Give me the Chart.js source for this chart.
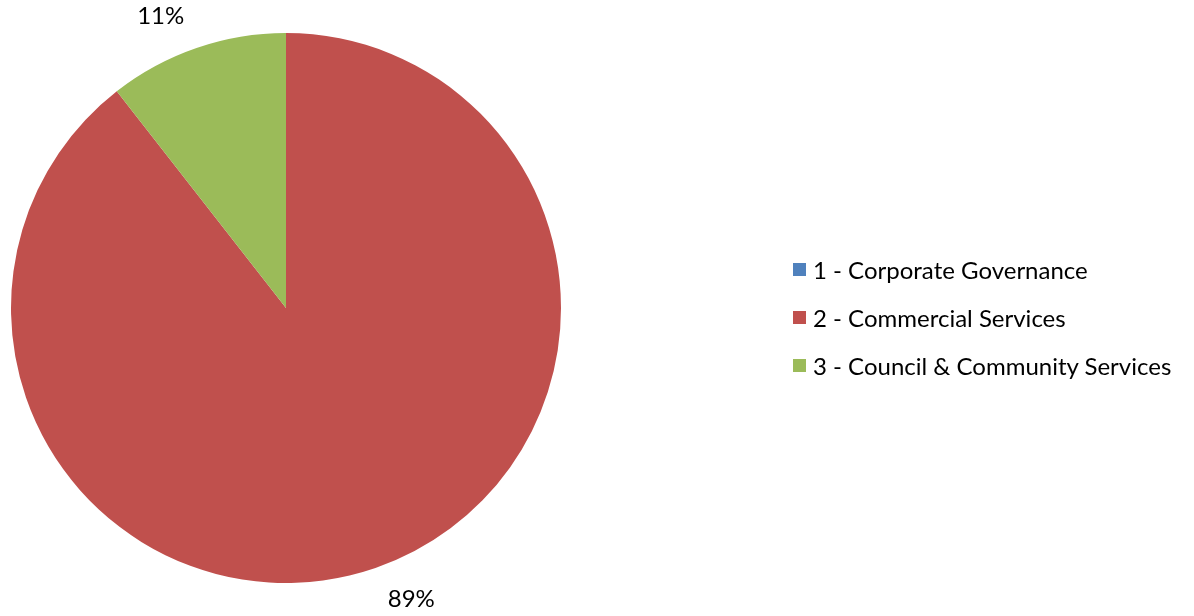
<!DOCTYPE html>
<html>
<head>
<meta charset="utf-8">
<script src="https://cdn.jsdelivr.net/npm/chart.js@4"></script>
<style>
  body { margin: 0; background: #fff; }
  #wrap { position: relative; width: 1194px; height: 616px; }
  #legend { position: absolute; left: 793px; top: 245px; font-family: Lato, "Open Sans", sans-serif; font-size: 24px; color: #000; }
  .item { display: flex; align-items: center; height: 48px; }
  .box { width: 13px; height: 13px; margin-right: 7px; }
</style>
</head>
<body>
<div id="wrap">
  <canvas id="grafico" width="1194" height="616"></canvas>
  <div id="legend"></div>
</div>
<script>
const categorias = ['1 - Corporate Governance', '2 - Commercial Services', '3 - Council & Community Services'];
const valores = [0, 89.45, 10.55];
const cores = ['#4F81BD', '#C0504D', '#9BBB59'];

// rotulos de porcentagem fora da pizza
const rotulos = {
    id: 'rotulos',
    afterDatasetsDraw(chart) {
        const ctx = chart.ctx;
        const meta = chart.getDatasetMeta(0);
        const total = valores.reduce((a, b) => a + b, 0);
        ctx.save();
        ctx.font = '24px Lato, "Open Sans", sans-serif';
        ctx.fillStyle = '#000';
        ctx.textAlign = 'center';
        ctx.textBaseline = 'middle';
        meta.data.forEach(function (arc, i) {
            if (valores[i] == 0) return;
            const p = arc.getProps(['x', 'y', 'startAngle', 'endAngle', 'outerRadius'], true);
            const meio = (p.startAngle + p.endAngle) / 2;
            const r = p.outerRadius + 33;
            const x = p.x + Math.cos(meio) * r * 1.25;
            const y = p.y + Math.sin(meio) * r;
            ctx.fillText(Math.round(valores[i] / total * 100) + '%', x, y);
        });
        ctx.restore();
    }
};

const config = {
    type: 'pie',
    data: {
        labels: categorias,
        datasets: [{
            data: valores,
            backgroundColor: cores,
            borderWidth: 0
        }]
    },
    options: {
        responsive: false,
        animation: false,
        layout: { padding: { left: 11, top: 33, right: 633, bottom: 33 } },
        plugins: { legend: { display: false }, tooltip: { enabled: false } }
    },
    plugins: [rotulos]
};
var ctx = document.getElementById('grafico').getContext('2d');
let myChart = new Chart(ctx, config);

var leg = document.getElementById('legend');
for (i = 0; i < categorias.length; i++) {
    var linha = document.createElement('div');
    linha.className = 'item';
    linha.innerHTML = '<span class="box" style="background:' + cores[i] + '"></span>';
    var txt = document.createElement('span');
    txt.textContent = categorias[i];
    linha.appendChild(txt);
    leg.appendChild(linha);
}
</script>
</body>
</html>
